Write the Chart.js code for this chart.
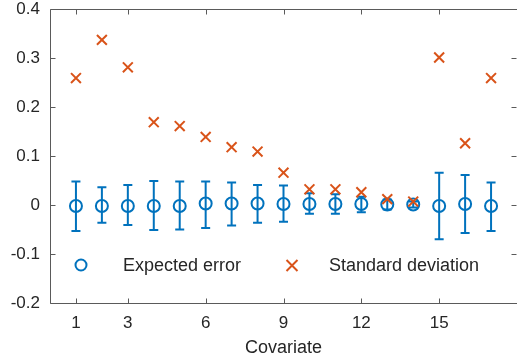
<!DOCTYPE html>
<html>
<head>
<meta charset="utf-8">
<script src="https://cdn.jsdelivr.net/npm/chart.js@4/dist/chart.umd.min.js"></script>
<style>
  html, body { margin: 0; padding: 0; background: #fff; }
  #wrap { width: 517px; height: 362px; }
</style>
</head>
<body>
<div id="wrap"><canvas id="mychart" width="517" height="362"></canvas></div>
<script>
// data
var covariates = [1, 2, 3, 4, 5, 6, 7, 8, 9, 10, 11, 12, 13, 14, 15, 16, 17];
var expectedError = [-0.002, -0.002, -0.002, -0.002, -0.002, 0.003, 0.003, 0.003, 0.002, 0.002, 0.002, 0.002, 0.001, 0.001, -0.002, 0.002, -0.002];
var errUpper = [0.048, 0.036, 0.041, 0.049, 0.048, 0.048, 0.046, 0.041, 0.040, 0.024, 0.022, 0.017, 0.011, 0.007, 0.066, 0.061, 0.046];
var errLower = [-0.053, -0.036, -0.041, -0.051, -0.050, -0.047, -0.042, -0.036, -0.034, -0.018, -0.018, -0.015, -0.009, -0.005, -0.070, -0.057, -0.053];
var stdDev = [0.259, 0.337, 0.281, 0.169, 0.161, 0.139, 0.118, 0.109, 0.066, 0.032, 0.032, 0.026, 0.012, 0.007, 0.301, 0.126, 0.259];
var xTicks = [1, 3, 6, 9, 12, 15];
var xMin = 0, xMax = 18;

var BLUE = "#0072BD";
var ORANGE = "#D95319";
var AXIS = "#5a5a5a";
var TEXT = "#262626";

// error bars, drawn under the markers
var errorBars = {
  id: "errorBars",
  beforeDatasetsDraw: function(chart) {
    var ctx = chart.ctx, xs = chart.scales.x, ys = chart.scales.y;
    ctx.save();
    ctx.strokeStyle = BLUE;
    ctx.lineWidth = 2;
    covariates.forEach(function(c, i) {
      var px = xs.getPixelForValue(c);
      var top = ys.getPixelForValue(errUpper[i]);
      var bot = ys.getPixelForValue(errLower[i]);
      ctx.beginPath();
      ctx.moveTo(px, top); ctx.lineTo(px, bot);
      ctx.moveTo(px - 4.5, top); ctx.lineTo(px + 4.5, top);
      ctx.moveTo(px - 4.5, bot); ctx.lineTo(px + 4.5, bot);
      ctx.stroke();
    });
    ctx.restore();
  }
};

// matlab style box with inward ticks + legend inside the axes
var boxAndLegend = {
  id: "boxAndLegend",
  afterDraw: function(chart) {
    var ctx = chart.ctx, a = chart.chartArea, xs = chart.scales.x, ys = chart.scales.y;
    ctx.save();
    ctx.strokeStyle = AXIS;
    ctx.lineWidth = 1;
    var L = Math.round(a.left) + 0.5, R = a.right + 0.5, T = Math.round(a.top) + 0.5, B = Math.round(a.bottom) + 0.5;
    ctx.beginPath();
    ctx.moveTo(L, T); ctx.lineTo(R, T);
    ctx.moveTo(L, T); ctx.lineTo(L, B);
    ctx.lineTo(R, B);
    xTicks.forEach(function(v) {
      var px = Math.round(xs.getPixelForValue(v)) + 0.5;
      ctx.moveTo(px, B); ctx.lineTo(px, B - 5);
      ctx.moveTo(px, T); ctx.lineTo(px, T + 5);
    });
    ys.ticks.forEach(function(t) {
      var py = Math.round(ys.getPixelForValue(t.value)) + 0.5;
      ctx.moveTo(L, py); ctx.lineTo(L + 5, py);
      ctx.moveTo(R - 1, py); ctx.lineTo(R - 6, py);
    });
    ctx.stroke();

    // legend
    ctx.lineWidth = 2;
    ctx.strokeStyle = BLUE;
    ctx.beginPath();
    ctx.arc(81, 265, 5.5, 0, Math.PI * 2);
    ctx.stroke();
    ctx.strokeStyle = ORANGE;
    ctx.beginPath();
    ctx.moveTo(286.5, 260); ctx.lineTo(297.5, 271);
    ctx.moveTo(297.5, 260); ctx.lineTo(286.5, 271);
    ctx.stroke();
    ctx.fillStyle = TEXT;
    ctx.font = "18px 'Liberation Sans', Arial, sans-serif";
    ctx.textBaseline = "middle";
    ctx.fillText("Expected error", 123, 266);
    ctx.fillText("Standard deviation", 329, 266);
    ctx.restore();
  }
};

function noPad(scale) {
  scale.paddingTop = 0;
  scale.paddingBottom = 0;
  scale.paddingLeft = 0;
  scale.paddingRight = 0;
}

var context = document.getElementById("mychart").getContext("2d");
var chart = new Chart(context, {
  type: "scatter",
  data: {
    datasets: [
      {
        label: "Expected error",
        data: covariates.map(function(c, i) { return { x: c, y: expectedError[i] }; }),
        pointStyle: "circle",
        pointRadius: 6,
        pointBorderWidth: 2,
        borderColor: BLUE,
        backgroundColor: "rgba(0,0,0,0)",
        order: 1
      },
      {
        label: "Standard deviation",
        data: covariates.map(function(c, i) { return { x: c, y: stdDev[i] }; }),
        pointStyle: "crossRot",
        pointRadius: 7,
        pointBorderWidth: 2,
        borderColor: ORANGE,
        backgroundColor: ORANGE,
        order: 0
      }
    ]
  },
  options: {
    responsive: false,
    animation: false,
    events: [],
    layout: { autoPadding: false, padding: { top: 9, right: 0, left: 0, bottom: 0 } },
    plugins: { legend: { display: false }, tooltip: { enabled: false } },
    scales: {
      x: {
        type: "linear",
        min: xMin, max: xMax,
        // bounds get empty labels so the last real label doesn't eat room on the right
        afterBuildTicks: function(scale) {
          scale.ticks = [xMin].concat(xTicks, [xMax]).map(function(v) { return { value: v }; });
        },
        afterFit: function(scale) { scale.height = 59; noPad(scale); },
        grid: { display: false, drawTicks: false },
        border: { display: false },
        ticks: {
          padding: 10,
          color: TEXT,
          font: { family: "'Liberation Sans', Arial, sans-serif", size: 17 },
          maxRotation: 0,
          autoSkip: false,
          callback: function(v) { return xTicks.indexOf(v) >= 0 ? String(v) : ""; }
        },
        title: {
          display: true,
          text: "Covariate",
          color: TEXT,
          font: { family: "'Liberation Sans', Arial, sans-serif", size: 18 },
          padding: { top: 0, bottom: 3 }
        }
      },
      y: {
        min: -0.2, max: 0.4,
        afterFit: function(scale) { scale.width = 50; noPad(scale); },
        grid: { display: false, drawTicks: false },
        border: { display: false },
        ticks: {
          stepSize: 0.1,
          padding: 10,
          color: TEXT,
          font: { family: "'Liberation Sans', Arial, sans-serif", size: 17 },
          callback: function(v) { return String(Math.round(v * 10) / 10); }
        }
      }
    }
  },
  plugins: [errorBars, boxAndLegend]
});
</script>
</body>
</html>
